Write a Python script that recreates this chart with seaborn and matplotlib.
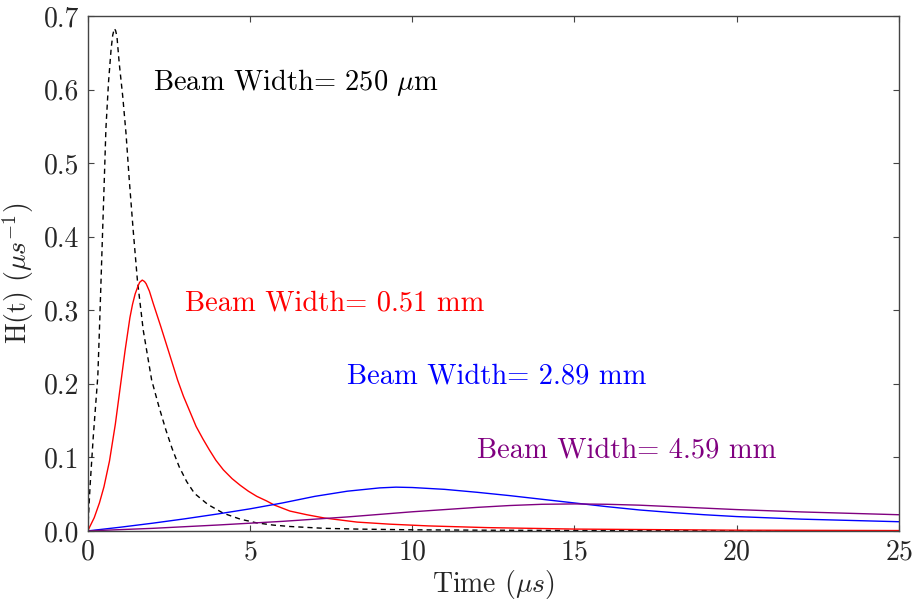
import matplotlib
matplotlib.use("Agg")
import matplotlib.pyplot as plt
import pandas as pd
import seaborn as sns

# Impulse response H(t) for four beam widths (t in microseconds)
t_250um = [0.0, 0.07, 0.17, 0.31, 0.36, 0.41, 0.46, 0.51, 0.56, 0.64, 0.72, 0.77, 0.82,
           0.86, 0.90, 0.97, 1.08, 1.18, 1.28, 1.40, 1.53, 1.71, 1.97, 2.2, 2.41, 2.6,
           2.82, 3.05, 3.29, 3.7, 4.18, 4.7, 5.2, 5.7, 6.23, 7.3, 8.3, 10.0, 12.5,
           15.0, 20.0, 25.0]
h_250um = [0.0, 0.06, 0.128, 0.21, 0.273, 0.341, 0.41, 0.477, 0.547, 0.61, 0.655, 0.674, 0.683,
           0.680, 0.672, 0.636, 0.59, 0.54, 0.477, 0.409, 0.341, 0.273, 0.205, 0.168, 0.137, 0.112,
           0.087, 0.067, 0.051, 0.036, 0.024, 0.016, 0.011, 0.008, 0.006, 0.0035, 0.0025, 0.0015, 0.0009,
           0.0006, 0.0003, 0.0002]

t_051mm = [0.0, 0.1, 0.2, 0.36, 0.5, 0.67, 0.85, 1.0, 1.15, 1.3, 1.38, 1.46, 1.55, 1.6,
           1.68, 1.75, 1.8, 1.9, 2.02, 2.25, 2.5, 2.77, 2.95, 3.15, 3.34, 3.55, 3.75,
           3.95, 4.18, 4.45, 4.7, 4.95, 5.21, 5.5, 5.76, 6.23, 6.75, 7.3, 8.3, 9.3,
           10.5, 12.3, 15.0, 20.0, 25.0]
h_051mm = [0.0, 0.009, 0.018, 0.038, 0.06, 0.095, 0.145, 0.195, 0.245, 0.29, 0.308, 0.322, 0.333, 0.338,
           0.341, 0.339, 0.336, 0.326, 0.309, 0.278, 0.243, 0.205, 0.183, 0.162, 0.142, 0.125, 0.11,
           0.096, 0.083, 0.071, 0.062, 0.054, 0.047, 0.041, 0.035, 0.027, 0.022, 0.0175, 0.012, 0.0092,
           0.0068, 0.0045, 0.0025, 0.001, 0.0005]

t_289mm = [0.0, 1.0, 2.0, 3.0, 4.0, 5.0, 6.0, 7.0, 8.0, 9.0, 9.5, 10.0, 11.0, 12.0,
           13.0, 14.0, 15.0, 16.0, 17.0, 18.0, 19.0, 20.0, 22.0, 25.0]
h_289mm = [0.0, 0.005, 0.0105, 0.0165, 0.023, 0.030, 0.038, 0.047, 0.054, 0.0585, 0.0595, 0.059,
           0.0565, 0.0525, 0.048, 0.043, 0.038, 0.033, 0.0285, 0.025, 0.022, 0.0195, 0.016, 0.0125]

t_459mm = [0.0, 2.0, 4.0, 6.0, 8.0, 10.0, 12.0, 13.0, 14.0, 15.0, 16.0, 17.0,
           18.0, 20.0, 22.0, 25.0]
h_459mm = [0.0, 0.0035, 0.008, 0.013, 0.019, 0.026, 0.032, 0.0345, 0.0362, 0.0367, 0.0362, 0.035,
           0.033, 0.029, 0.0258, 0.022]

labels = [r"Beam Width= 250 $\mu$m", "Beam Width= 0.51 mm",
          "Beam Width= 2.89 mm", "Beam Width= 4.59 mm"]
label_x = [2.0, 3.0, 8.0, 12.0]
label_y = [0.6, 0.3, 0.2, 0.1]
colors = ["black", "red", "blue", "purple"]

sns.set_style("ticks")
plt.rcParams.update({
    "font.family": ["cmr10"],
    "mathtext.fontset": "cm",
    "axes.formatter.use_mathtext": True,
    "axes.unicode_minus": False,
})

fig = plt.figure(figsize=(9.14, 6.04), dpi=100)
ax = fig.add_axes([0.096, 0.121, 0.8875, 0.8525])

series = [(t_250um, h_250um, (3.7, 2.9)), (t_051mm, h_051mm, None),
          (t_289mm, h_289mm, None), (t_459mm, h_459mm, None)]
for (t, h, dash), c in zip(series, colors):
    df = pd.DataFrame({"t": t, "H": h})
    line_ax = sns.lineplot(data=df, x="t", y="H", ax=ax, color=c,
                           linewidth=1.0, estimator=None, sort=False)
    if dash is not None:
        line_ax.lines[-1].set_dashes(dash)

for txt, x, y, c in zip(labels, label_x, label_y, colors):
    ax.text(x, y, txt, color=c, fontsize=20.5)

ax.set_xlim(0, 25)
ax.set_ylim(0, 0.7)
ax.set_xticks([0, 5, 10, 15, 20, 25])
ax.set_yticks([0.0, 0.1, 0.2, 0.3, 0.4, 0.5, 0.6, 0.7])
ax.set_yticklabels([f"{v:.1f}" for v in ax.get_yticks()])
ax.tick_params(direction="in", top=True, right=True, length=4, width=0.8,
               labelsize=20, pad=6, color="#444444")
for s in ax.spines.values():
    s.set_color("#444444")
    s.set_linewidth(1.0)

ax.set_xlabel(r"Time ($\mu s$)", fontsize=20, labelpad=2)
ax.set_ylabel(r"H(t) ($\mu s^{-1}$)", fontsize=20, labelpad=6)

fig.savefig("out.png", dpi=100)
